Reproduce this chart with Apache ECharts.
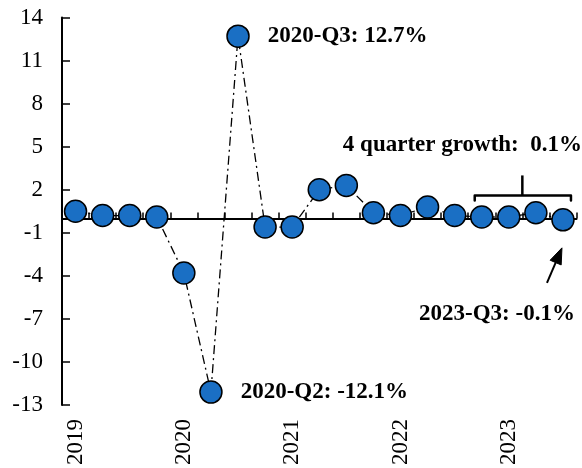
<!DOCTYPE html>
<html>
<head>
<meta charset="utf-8">
<script src="https://cdn.jsdelivr.net/npm/echarts@6/dist/echarts.min.js"></script>
<style>
  html, body { margin: 0; padding: 0; background: #fff; }
  #chart { width: 582px; height: 468px; }
</style>
</head>
<body>
<div id="chart"></div>
<script>
// Quarterly real GDP growth, percent
const categories = [
  '2019-Q1', '2019-Q2', '2019-Q3', '2019-Q4',
  '2020-Q1', '2020-Q2', '2020-Q3', '2020-Q4',
  '2021-Q1', '2021-Q2', '2021-Q3', '2021-Q4',
  '2022-Q1', '2022-Q2', '2022-Q3', '2022-Q4',
  '2023-Q1', '2023-Q2', '2023-Q3'
];
const growth = [
  0.5, 0.2, 0.2, 0.1,
  -3.8, -12.1, 12.7, -0.6,
  -0.6, 2.0, 2.3, 0.4,
  0.2, 0.8, 0.2, 0.1,
  0.1, 0.4, -0.1
];
const yTicks = [-13, -10, -7, -4, -1, 2, 5, 8, 11, 14];
const fourQuarterGrowth = 0.1;
const calloutRight = ['2020-Q3', '2020-Q2'];
const calloutArrow = '2023-Q3';
const lastFour = ['2022-Q4', '2023-Q1', '2023-Q2', '2023-Q3'];

const FONT = '"Liberation Serif", "Times New Roman", serif';
const FS = 23;

const labelFmt = p => `${p.name}: ${Number(p.value).toFixed(1)}%`;
const boldLabel = {
  show: true,
  formatter: labelFmt,
  color: '#000',
  fontFamily: FONT,
  fontSize: FS,
  fontWeight: 'bold'
};

const seriesData = growth.map((v, i) => {
  const c = categories[i];
  if (calloutRight.includes(c)) {
    return { value: v, label: Object.assign({}, boldLabel, { position: 'right', distance: 18 }) };
  }
  if (c === calloutArrow) {
    return { value: v, label: Object.assign({}, boldLabel, { position: 'inside', offset: [-66, 94] }) };
  }
  return v;
});

const chart = echarts.init(document.getElementById('chart'), null, { renderer: 'canvas' });

chart.setOption({
  animation: false,
  backgroundColor: '#fff',
  grid: {
    left: 62, right: 5.5, top: 17.5, bottom: 63,
    outerBoundsMode: 'none'
  },
  xAxis: [
    {
      // zero line with quarter ticks
      type: 'category',
      data: categories,
      position: 'bottom',
      axisLine: { onZero: true, lineStyle: { color: '#000', width: 2 } },
      axisTick: { show: true, inside: true, length: 6, interval: 0, lineStyle: { color: '#000', width: 1.5 } },
      axisLabel: { show: false },
      splitLine: { show: false }
    },
    {
      // year labels along the bottom
      type: 'category',
      data: categories,
      position: 'bottom',
      axisLine: { show: false, onZero: false },
      axisTick: { show: false },
      axisLabel: {
        show: true,
        interval: 3,
        rotate: 90,
        margin: 14,
        formatter: v => v.slice(0, 4),
        color: '#000',
        fontFamily: FONT,
        fontSize: FS
      },
      splitLine: { show: false }
    }
  ],
  yAxis: {
    type: 'value',
    min: -13,
    max: 14,
    axisLine: { show: true, lineStyle: { color: '#000', width: 2 } },
    axisTick: {
      show: true, inside: true, length: 8,
      customValues: yTicks,
      lineStyle: { color: '#000', width: 1.5 }
    },
    axisLabel: {
      customValues: yTicks,
      margin: 19,
      color: '#000',
      fontFamily: FONT,
      fontSize: FS
    },
    splitLine: { show: false }
  },
  series: [{
    type: 'line',
    xAxisIndex: 0,
    data: seriesData,
    symbol: 'circle',
    symbolSize: 22,
    showSymbol: true,
    showAllSymbol: true,
    lineStyle: { color: '#000', width: 1.3, type: [9, 4, 2, 4] },
    itemStyle: { color: '#1a6fc4', borderColor: '#000', borderWidth: 1.5 },
    label: { show: false },
    z: 3
  }]
});

// Annotations placed from the axes' own pixel mapping
const toPx = (cat, val) => chart.convertToPixel({ xAxisIndex: 0, yAxisIndex: 0 }, [cat, val]);
const zeroY = toPx(categories[0], 0)[1];
const firstX = toPx(lastFour[0], 0)[0];
const lastX = toPx(lastFour[lastFour.length - 1], 0)[0];
const midX = (firstX + lastX) / 2;
const bracketY = zeroY - 23;

const arrowIdx = categories.indexOf(calloutArrow);
const pt = toPx(calloutArrow, growth[arrowIdx]);
const tip = [pt[0] - 1, pt[1] + 28];
const tail = [pt[0] - 16, pt[1] + 63];
const dx = tip[0] - tail[0], dy = tip[1] - tail[1];
const len = Math.hypot(dx, dy);
const ux = dx / len, uy = dy / len;
const headLen = 16, headHalf = 6;
const base = [tip[0] - ux * headLen, tip[1] - uy * headLen];
const head = [
  tip,
  [base[0] - uy * headHalf, base[1] + ux * headHalf],
  [base[0] + uy * headHalf, base[1] - ux * headHalf]
];

chart.setOption({
  graphic: [
    {
      type: 'polyline',
      shape: { points: [[firstX - 7, bracketY + 5], [firstX - 7, bracketY], [lastX + 8, bracketY], [lastX + 8, bracketY + 5]] },
      style: { stroke: '#000', lineWidth: 2.5, fill: null, lineJoin: 'round', lineCap: 'round' },
      z: 10
    },
    {
      type: 'line',
      shape: { x1: midX, y1: bracketY, x2: midX, y2: bracketY - 20 },
      style: { stroke: '#000', lineWidth: 2.5 },
      z: 10
    },
    {
      type: 'text',
      style: {
        text: `4 quarter growth:  ${fourQuarterGrowth.toFixed(1)}%`,
        x: 582, y: zeroY - 73,
        align: 'right', verticalAlign: 'middle',
        textAlign: 'right', textVerticalAlign: 'middle',
        font: `bold ${FS}px ${FONT}`,
        fill: '#000'
      },
      z: 10
    },
    {
      type: 'line',
      shape: { x1: tail[0], y1: tail[1], x2: base[0], y2: base[1] },
      style: { stroke: '#000', lineWidth: 2 },
      z: 10
    },
    {
      type: 'polygon',
      shape: { points: head },
      style: { fill: '#000', stroke: '#000', lineWidth: 1 },
      z: 10
    }
  ]
});
</script>
</body>
</html>
